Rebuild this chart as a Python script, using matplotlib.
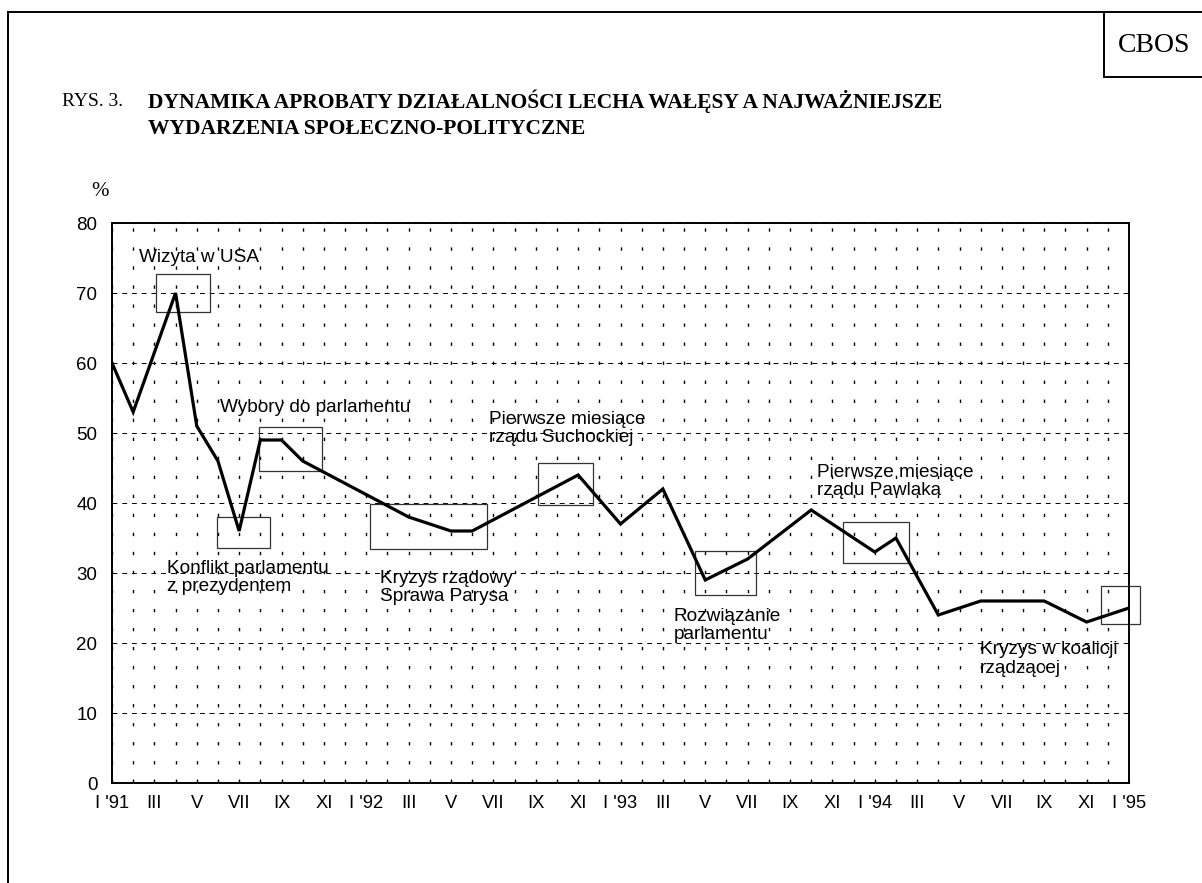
import matplotlib
matplotlib.use("Agg")
import matplotlib.pyplot as plt
from matplotlib.patches import Rectangle
from matplotlib.lines import Line2D

# months counted from I '91 (0) to I '95 (48)
months = [0, 1, 3, 4, 5, 6, 7, 8, 9, 14, 16, 17, 22, 24, 26, 28, 30, 33, 36, 37, 39, 41, 44, 46, 48]
approval = [60, 53, 70, 51, 46, 36, 49, 49, 46, 38, 36, 36, 44, 37, 42, 29, 32, 39, 33, 35, 24, 26, 26, 23, 25]

tick_labels = ["I '91", "III", "V", "VII", "IX", "XI",
               "I '92", "III", "V", "VII", "IX", "XI",
               "I '93", "III", "V", "VII", "IX", "XI",
               "I '94", "III", "V", "VII", "IX", "XI", "I '95"]

event_labels = ["Wizyta w USA", "Wybory do parlamentu", "Konflikt parlamentu\nz prezydentem",
                "Kryzys rządowy\nSprawa Parysa", "Pierwsze miesiące\nrządu Suchockiej",
                "Rozwiązanie\nparlamentu", "Pierwsze miesiące\nrządu Pawlaka",
                "Kryzys w koalicji\nrządzącej", None]

# text anchor (x, y) and highlight box (x0, x1, y0, y1) for each event
text_pos = [(1.27, 75.1), (5.1, 53.6), (2.6, 29.4), (12.65, 27.9), (17.8, 50.6),
            (26.5, 22.5), (33.27, 43.1), (40.96, 17.7), None]
boxes = [(2.08, 4.63, 67.3, 72.7), (6.94, 9.91, 44.6, 50.9), (4.95, 7.46, 33.6, 38.0),
         (12.2, 17.7, 33.4, 39.9), (20.1, 22.7, 39.7, 45.7), (27.5, 30.4, 26.9, 33.1),
         (34.5, 37.6, 31.4, 37.3), None, (46.7, 48.5, 22.7, 28.1)]

sans = "Liberation Sans"
serif = "Liberation Serif"

fig = plt.figure(figsize=(12.02, 8.83), dpi=100)
ax = fig.add_axes([112 / 1202, 100 / 883, 1017 / 1202, 560 / 883])

ax.plot(months, approval, color="black", linewidth=2.3, solid_joinstyle="miter", zorder=3)

ax.set_xlim(0, 48)
ax.set_ylim(0, 80)
ax.set_xticks(range(0, 49, 2))
ax.set_xticks(range(1, 48, 2), minor=True)
ax.set_xticklabels(tick_labels, fontfamily=sans, fontsize=13.2)
ax.set_yticks(range(0, 81, 10))
ax.set_yticklabels([str(v) for v in range(0, 81, 10)], fontfamily=sans, fontsize=13.5)
ax.tick_params(axis="x", which="both", direction="in", length=3, width=0.8, pad=8.5)
ax.tick_params(axis="y", length=0, pad=10.5)

# grid: dotted verticals every month, dashed horizontals every 10
ax.grid(axis="x", which="both", color="black", linewidth=1.0, linestyle=(0, (2.4, 11.3)))
ax.grid(axis="y", which="major", color="black", linewidth=0.7, linestyle=(0, (5, 5)))
ax.set_axisbelow(True)
for s in ax.spines.values():
    s.set_linewidth(1.4)

for lab, pos, box in zip(event_labels, text_pos, boxes):
    if lab is not None:
        ax.text(pos[0], pos[1], lab, fontfamily=sans, fontsize=13.7, ha="left", va="center",
                linespacing=1.1, zorder=4)
    if box is not None:
        x0, x1, y0, y1 = box
        ax.add_patch(Rectangle((x0, y0), x1 - x0, y1 - y0, fill=False, edgecolor="#333333",
                               linewidth=0.9, clip_on=False, zorder=2))

# page frame and CBOS box
fig.add_artist(Line2D([8 / 1202, 8 / 1202], [0, 1 - 12 / 883], color="black", linewidth=1.4))
fig.add_artist(Line2D([8 / 1202, 1], [1 - 12 / 883, 1 - 12 / 883], color="black", linewidth=1.4))
fig.add_artist(Line2D([1104 / 1202, 1104 / 1202], [1 - 12 / 883, 1 - 77 / 883], color="black", linewidth=1.4))
fig.add_artist(Line2D([1104 / 1202, 1], [1 - 77 / 883, 1 - 77 / 883], color="black", linewidth=1.4))
fig.text(1154 / 1202, 1 - 45 / 883, "CBOS", fontfamily=serif, fontsize=20, ha="center", va="center")

fig.text(62 / 1202, 1 - 101 / 883, "RYS. 3.", fontfamily=serif, fontsize=14, va="center")
fig.text(148 / 1202, 1 - 101 / 883, "DYNAMIKA APROBATY DZIAŁALNOŚCI LECHA WAŁĘSY A NAJWAŻNIEJSZE",
         fontfamily=serif, fontsize=15.5, fontweight="bold", va="center")
fig.text(148 / 1202, 1 - 129 / 883, "WYDARZENIA SPOŁECZNO-POLITYCZNE",
         fontfamily=serif, fontsize=15.5, fontweight="bold", va="center")
fig.text(100 / 1202, 1 - 192 / 883, "%", fontfamily=serif, fontsize=15, ha="center", va="center")

fig.savefig("out.png", dpi=100, facecolor="white")
